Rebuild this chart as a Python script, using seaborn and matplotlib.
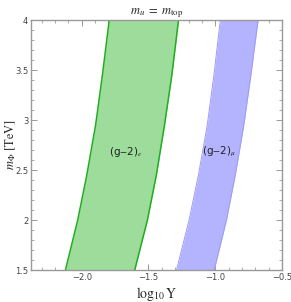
import numpy as np
import pandas as pd
import matplotlib
matplotlib.use("Agg")
import matplotlib.pyplot as plt
from matplotlib.ticker import MultipleLocator
import seaborn as sns

# m_Phi values (TeV) where the band edges were read
m_phi = [1.5, 2.0, 2.45, 2.95, 3.45, 4.0]
# log10 Y band edges
ge_left = [-2.122, -2.030, -1.962, -1.896, -1.845, -1.794]
ge_right = [-1.603, -1.508, -1.441, -1.380, -1.325, -1.275]
gmu_left = [-1.290, -1.196, -1.126, -1.060, -1.010, -0.962]
gmu_right = [-1.008, -0.916, -0.850, -0.786, -0.733, -0.679]

sns.set_theme(style="white")
plt.rcParams["mathtext.fontset"] = "stix"
plt.rcParams["font.family"] = ["DejaVu Sans"]

fig = plt.figure(figsize=(2.91, 3.02), dpi=100)
ax = fig.add_axes([31 / 291, 32 / 302, 251 / 291, 250 / 302])

df = pd.DataFrame({"m": m_phi, "el": ge_left, "er": ge_right,
                   "ml": gmu_left, "mr": gmu_right})

# (g-2)_e band
ax.fill_betweenx(df["m"], df["el"], df["er"], color="#9ddc9a", lw=0)
sns.lineplot(data=df, x="el", y="m", sort=False, orient="y", ax=ax, color="#1fae1f", lw=1.1)
sns.lineplot(data=df, x="er", y="m", sort=False, orient="y", ax=ax, color="#1fae1f", lw=1.1)

# (g-2)_mu band
ax.fill_betweenx(df["m"], df["ml"], df["mr"], color="#b3b3fe", lw=0)
sns.lineplot(data=df, x="ml", y="m", sort=False, orient="y", ax=ax, color="#9c9cf5", lw=0.7)
sns.lineplot(data=df, x="mr", y="m", sort=False, orient="y", ax=ax, color="#9c9cf5", lw=0.7)

ax.text(-1.667, 2.68, r"(g$-$2)$_e$", ha="center", va="center", fontsize=7.5, color="#222222")
ax.text(-0.97, 2.68, r"(g$-$2)$_\mu$", ha="center", va="center", fontsize=7.5, color="#222222")

ax.set_xlim(-2.38, -0.5)
ax.set_ylim(1.5, 4.0)
ax.xaxis.set_minor_locator(MultipleLocator(0.1))
ax.yaxis.set_minor_locator(MultipleLocator(0.1))
ax.set_xticks([-2.0, -1.5, -1.0, -0.5])
ax.set_xticklabels(["\u22122.0", "\u22121.5", "\u22121.0", "\u22120.5"])
ax.set_yticks([1.5, 2, 2.5, 3, 3.5, 4])
ax.set_yticklabels(["1.5", "2", "2.5", "3", "3.5", "4"])
ax.tick_params(which="both", direction="in", top=True, right=True, bottom=True, left=True,
               color="#888888", labelsize=6, labelcolor="#444444", pad=2)
ax.tick_params(which="major", length=4, width=0.6)
ax.tick_params(which="minor", length=2, width=0.5)
for s in ax.spines.values():
    s.set_color("#999999")
    s.set_linewidth(1.0)

ax.set_xlabel(r"$\mathrm{log}_{10}\,\mathrm{Y}$", fontsize=10, labelpad=2)
ax.set_ylabel(r"$m_{\Phi}\ \mathrm{[TeV]}$", fontsize=9)
ax.yaxis.set_label_coords(-0.052, 0.5)
ax.set_title(r"$m_u\; =\; m_{\mathrm{top}}$", fontsize=9, pad=4)

fig.savefig("out.png", dpi=100)
